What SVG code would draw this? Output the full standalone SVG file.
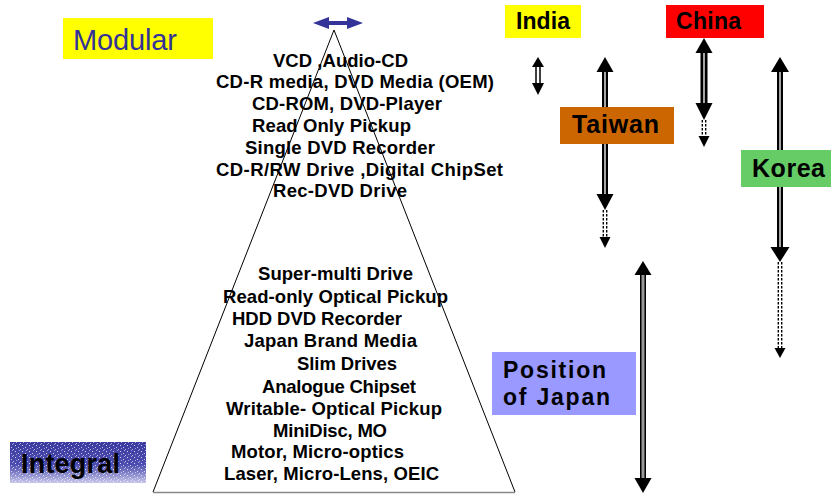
<svg xmlns="http://www.w3.org/2000/svg" width="831" height="494" viewBox="0 0 831 494">
<style>
.t{font-family:"Liberation Sans",Arial,sans-serif;font-weight:bold;font-size:18.5px;fill:#000}
.lbl{font-family:"Liberation Sans",Arial,sans-serif;font-weight:bold;fill:#000}
.head{fill:#000}
.shaft{fill:#000}
.core{stroke:#fff;stroke-width:1.3}
.dot{stroke:#000;stroke-width:1.4;stroke-dasharray:2.5 1.5;fill:none}
</style>
<defs>
<linearGradient id="intg" x1="0" y1="0" x2="0" y2="1">
<stop offset="0" stop-color="#3a3aa0"/>
<stop offset="0.55" stop-color="#4c4cb0"/>
<stop offset="0.75" stop-color="#8080c8"/>
<stop offset="1" stop-color="#c8c8ec"/>
</linearGradient>
<pattern id="speck" width="7" height="6" patternUnits="userSpaceOnUse">
<rect x="1" y="1" width="1" height="1" fill="#fff" opacity="0.8"/>
<rect x="4" y="3" width="1" height="1" fill="#fff" opacity="0.7"/>
<rect x="6" y="5" width="1" height="1" fill="#fff" opacity="0.6"/>
<rect x="2" y="4" width="1" height="1" fill="#fff" opacity="0.5"/>
<rect x="5" y="0" width="1" height="1" fill="#fff" opacity="0.5"/>
</pattern>
</defs>
<rect width="831" height="494" fill="#fff"/>

<g id="pyramid">
<polyline points="153,492 334,30 515,492" fill="none" stroke="#000" stroke-width="1"/>
<line x1="153" y1="492.5" x2="515" y2="492.5" stroke="#888" stroke-width="1.5"/>
<text class="t" x="273" y="67" textLength="135" lengthAdjust="spacing">VCD ,Audio-CD</text>
<text class="t" x="216" y="88" textLength="278" lengthAdjust="spacing">CD-R media, DVD Media (OEM)</text>
<text class="t" x="252" y="110" textLength="190" lengthAdjust="spacing">CD-ROM, DVD-Player</text>
<text class="t" x="252" y="132" textLength="159" lengthAdjust="spacing">Read Only Pickup</text>
<text class="t" x="245" y="154" textLength="190" lengthAdjust="spacing">Single DVD Recorder</text>
<text class="t" x="216" y="176" textLength="287" lengthAdjust="spacing">CD-R/RW Drive ,Digital ChipSet</text>
<text class="t" x="273" y="197" textLength="134" lengthAdjust="spacing">Rec-DVD Drive</text>
<text class="t" x="258" y="280" textLength="155" lengthAdjust="spacing">Super-multi Drive</text>
<text class="t" x="223" y="303" textLength="225" lengthAdjust="spacing">Read-only Optical Pickup</text>
<text class="t" x="232" y="325" textLength="170" lengthAdjust="spacing">HDD DVD Recorder</text>
<text class="t" x="244" y="347" textLength="173" lengthAdjust="spacing">Japan Brand Media</text>
<text class="t" x="297" y="370" textLength="100" lengthAdjust="spacing">Slim Drives</text>
<text class="t" x="262" y="393" textLength="154" lengthAdjust="spacing">Analogue Chipset</text>
<text class="t" x="226" y="415" textLength="216" lengthAdjust="spacing">Writable- Optical Pickup</text>
<text class="t" x="273" y="437" textLength="114" lengthAdjust="spacing">MiniDisc, MO</text>
<text class="t" x="231" y="458" textLength="173" lengthAdjust="spacing">Motor, Micro-optics</text>
<text class="t" x="224" y="480" textLength="215" lengthAdjust="spacing">Laser, Micro-Lens, OEIC</text>
</g>

<g id="connectors">
<polygon id="scale-arrow" points="313,23 329,17 329,21 347,21 347,17 363,23 347,29 347,25 329,25 329,29" fill="#333399"/>
<g id="arrow-india">
<line x1="536" y1="66" x2="536" y2="84" stroke="#000" stroke-width="1.5"/>
<line x1="540" y1="66" x2="540" y2="84" stroke="#000" stroke-width="1.5"/>
<polygon class="head" points="538,57 532,67 544,67"/>
<polygon class="head" points="532,83 544,83 538,95"/>
</g>
<g id="arrow-taiwan">
<rect class="shaft" x="602" y="71" width="6" height="124"/>
<line class="core" x1="605" y1="72" x2="605" y2="194"/>
<polygon class="head" points="605,57 596.5,72 613.5,72"/>
<polygon class="head" points="596.5,194 613.5,194 605,210"/>
<line class="dot" x1="603.3" y1="210" x2="603.3" y2="238"/>
<line class="dot" x1="606.7" y1="210" x2="606.7" y2="238"/>
<polygon class="head" points="599.5,237 610.5,237 605,248"/>
</g>
<g id="arrow-china">
<rect class="shaft" x="700.5" y="52" width="7" height="52"/>
<line class="core" x1="704" y1="53" x2="704" y2="103"/>
<polygon class="head" points="704,38 695.5,53 712.5,53"/>
<polygon class="head" points="695.5,103 712.5,103 704,120"/>
<line class="dot" x1="702.3" y1="120" x2="702.3" y2="137"/>
<line class="dot" x1="705.7" y1="120" x2="705.7" y2="137"/>
<polygon class="head" points="698.5,136 709.5,136 704,147"/>
</g>
<g id="arrow-korea">
<rect class="shaft" x="777" y="71" width="6" height="177"/>
<line class="core" x1="780" y1="72" x2="780" y2="247"/>
<polygon class="head" points="780,57 771,72 789,72"/>
<polygon class="head" points="770.5,247 789.5,247 780,262"/>
<line class="dot" x1="778.3" y1="262" x2="778.3" y2="349"/>
<line class="dot" x1="781.7" y1="262" x2="781.7" y2="349"/>
<polygon class="head" points="774.5,348 785.5,348 780,358"/>
</g>
<g id="arrow-japan">
<rect class="shaft" x="640" y="274" width="6" height="205"/>
<line x1="643" y1="275" x2="643" y2="478" stroke="#999" stroke-width="3"/>
<polygon class="head" points="643,261 634.5,275 651.5,275"/>
<polygon class="head" points="634.5,478 651.5,478 643,493"/>
</g>
</g>

<g id="modular">
<rect x="63" y="18" width="150" height="41" fill="#ffff00"/>
<text x="73" y="50" font-family="'Liberation Sans',Arial,sans-serif" font-size="29" fill="#333399" textLength="104" lengthAdjust="spacing">Modular</text>
</g>

<g id="integral">
<rect x="10" y="442" width="136" height="41" fill="url(#intg)"/>
<rect x="10" y="442" width="136" height="41" fill="url(#speck)"/>
<text class="lbl" x="21" y="473" font-size="27" textLength="99" lengthAdjust="spacing">Integral</text>
</g>

<g id="india">
<rect x="505" y="5" width="76" height="33" fill="#ffff00"/>
<text class="lbl" x="516" y="29" font-size="23" textLength="54" lengthAdjust="spacing">India</text>
</g>

<g id="china">
<rect x="666" y="5" width="98" height="33" fill="#ff0000"/>
<text class="lbl" x="676" y="29" font-size="23" textLength="65" lengthAdjust="spacing">China</text>
</g>

<g id="taiwan">
<rect x="560" y="107" width="114" height="37" fill="#cc6600"/>
<text class="lbl" x="572" y="133" font-size="25" textLength="87" lengthAdjust="spacing">Taiwan</text>
</g>

<g id="korea">
<rect x="741" y="150" width="90" height="37" fill="#66cc66"/>
<text class="lbl" x="752" y="177" font-size="25" textLength="73" lengthAdjust="spacing">Korea</text>
</g>

<g id="japan">
<rect x="492" y="352" width="144" height="63" fill="#9999ff"/>
<text class="lbl" x="503" y="378" font-size="23" textLength="103" lengthAdjust="spacing">Position</text>
<text class="lbl" x="503" y="405" font-size="23" textLength="107" lengthAdjust="spacing">of Japan</text>
</g>
</svg>
